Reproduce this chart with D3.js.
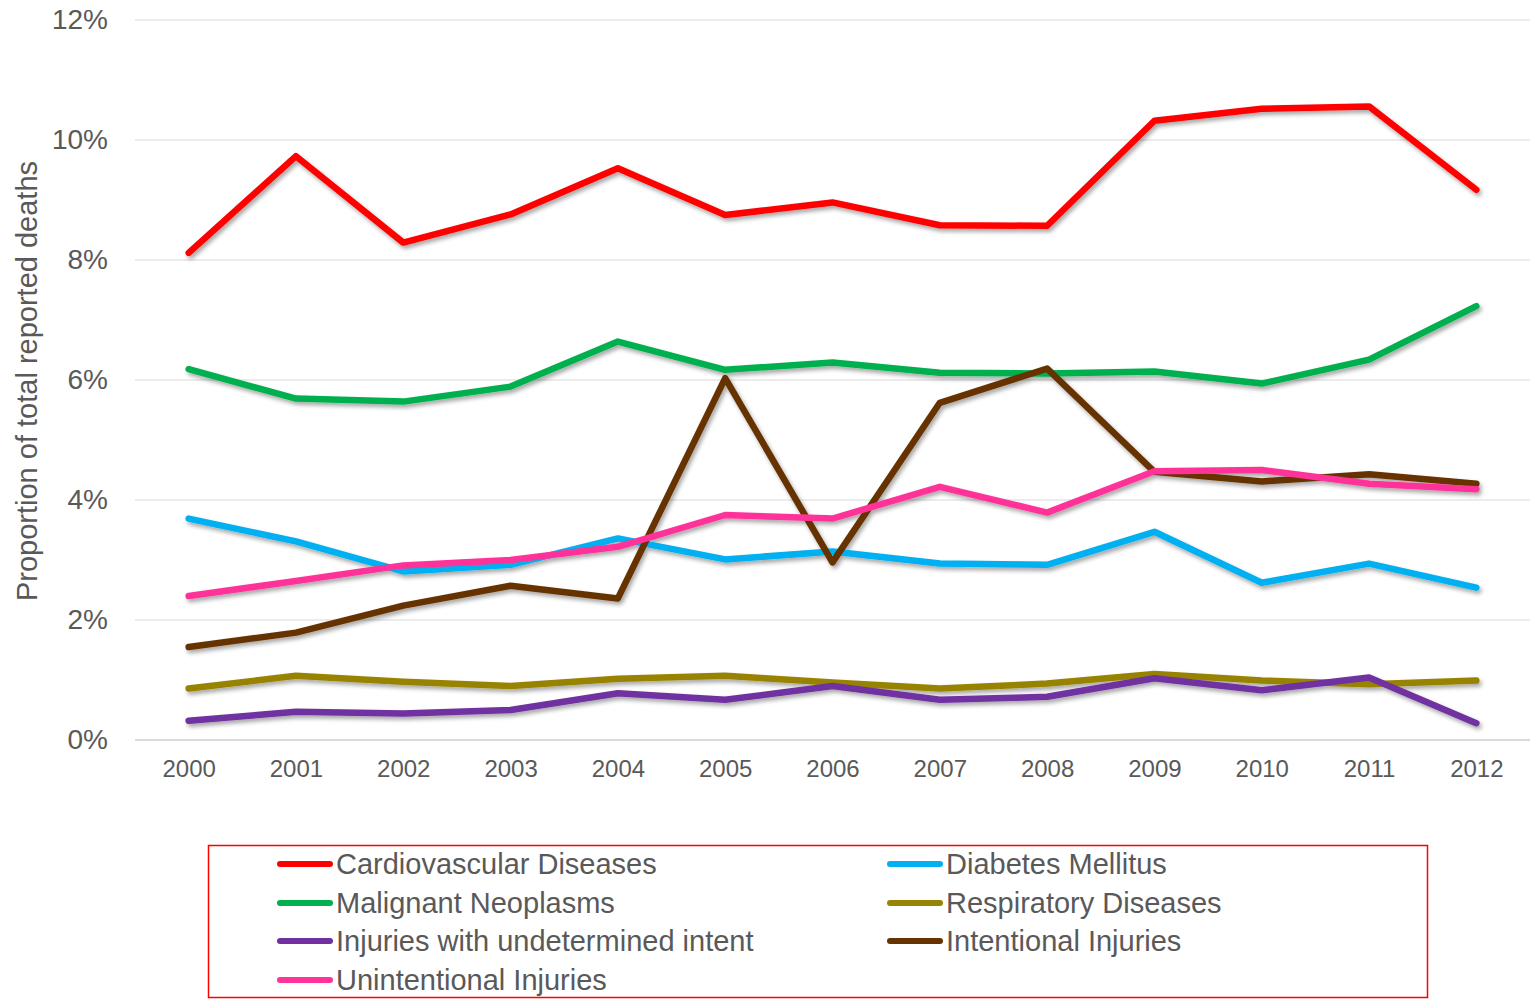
<!DOCTYPE html>
<html>
<head>
<meta charset="utf-8">
<script src="https://cdn.jsdelivr.net/npm/d3@7"></script>
<style>
  html, body { margin: 0; padding: 0; background: #fff; }
  svg { display: block; font-family: "Liberation Sans", Arial, sans-serif; }
</style>
</head>
<body>
<svg id="chart" width="1530" height="1001"></svg>
<script>
// Years on the category axis
const years = ["2000","2001","2002","2003","2004","2005","2006","2007","2008","2009","2010","2011","2012"];

// Share of all reported deaths, per cause (percent)
const cardiovascular = [8.12, 9.73, 8.29, 8.76, 9.53, 8.75, 8.96, 8.58, 8.57, 10.32, 10.52, 10.56, 9.17];
const diabetes       = [3.69, 3.31, 2.81, 2.92, 3.36, 3.01, 3.14, 2.94, 2.92, 3.47, 2.62, 2.94, 2.54];
const neoplasms      = [6.18, 5.69, 5.64, 5.89, 6.64, 6.17, 6.29, 6.12, 6.11, 6.14, 5.94, 6.34, 7.23];
const respiratory    = [0.86, 1.07, 0.97, 0.90, 1.02, 1.07, 0.96, 0.86, 0.94, 1.10, 0.99, 0.93, 0.99];
const undetermined   = [0.32, 0.47, 0.44, 0.50, 0.78, 0.67, 0.90, 0.67, 0.72, 1.03, 0.83, 1.04, 0.28];
const intentional    = [1.55, 1.79, 2.24, 2.57, 2.36, 6.03, 2.96, 5.62, 6.19, 4.47, 4.31, 4.43, 4.27];
const unintentional  = [2.40, 2.65, 2.91, 3.00, 3.22, 3.75, 3.69, 4.22, 3.79, 4.48, 4.50, 4.27, 4.18];

// Y-axis tick values (percent)
const yTicks = [0, 2, 4, 6, 8, 10, 12];

// Series in legend order (row by row, two columns)
const series = [
  { name: "Cardiovascular Diseases",           values: cardiovascular, color: "#FF0000" },
  { name: "Diabetes Mellitus",                 values: diabetes,       color: "#00B0F0" },
  { name: "Malignant Neoplasms",               values: neoplasms,      color: "#00B050" },
  { name: "Respiratory Diseases",              values: respiratory,    color: "#978304" },
  { name: "Injuries with undetermined intent", values: undetermined,   color: "#7030A0" },
  { name: "Intentional Injuries",              values: intentional,    color: "#663300" },
  { name: "Unintentional Injuries",            values: unintentional,  color: "#FF3399" }
];

const svg = d3.select("#chart");
const plotLeft = 135, plotRight = 1530, plotTop = 20, plotBottom = 740;
const textColor = "#595959";
const gridColor = "#D9D9D9";

const x = d3.scalePoint().domain(years).range([plotLeft, plotRight]).padding(0.5);
const y = d3.scaleLinear().domain([0, 12]).range([plotBottom, plotTop]);

// Soft shadow under the data lines
const defs = svg.append("defs");
const f = defs.append("filter").attr("id", "shadow")
  .attr("x", "-5%").attr("y", "-20%").attr("width", "110%").attr("height", "140%");
f.append("feDropShadow").attr("dx", 2).attr("dy", 3).attr("stdDeviation", 2)
  .attr("flood-color", "#000").attr("flood-opacity", 0.35);

// Horizontal gridlines
svg.append("g")
  .selectAll("line")
  .data(yTicks.filter(d => d > 0))
  .join("line")
  .attr("x1", plotLeft).attr("x2", plotRight)
  .attr("y1", d => y(d)).attr("y2", d => y(d))
  .attr("stroke", gridColor).attr("stroke-width", 1.2);

// Y axis labels
const yAxis = svg.append("g")
  .attr("transform", `translate(${plotLeft},0)`)
  .call(d3.axisLeft(y).tickValues(yTicks).tickFormat(d => d + "%").tickSize(0).tickPadding(27));
yAxis.select(".domain").remove();
yAxis.selectAll("text").attr("fill", textColor).style("font-size", "28px");

// X axis with its baseline
const xAxis = svg.append("g")
  .attr("transform", `translate(0,${plotBottom})`)
  .call(d3.axisBottom(x).tickSize(0).tickPadding(20));
xAxis.select(".domain").remove();
xAxis.selectAll("text").attr("fill", textColor).style("font-size", "24px");
svg.append("line")
  .attr("x1", plotLeft).attr("x2", plotRight)
  .attr("y1", y(0)).attr("y2", y(0))
  .attr("stroke", gridColor).attr("stroke-width", 2);

// Y axis title
svg.append("text")
  .attr("transform", `translate(37,${(160 + 602) / 2}) rotate(-90)`)
  .attr("text-anchor", "middle")
  .attr("fill", textColor)
  .style("font-size", "29px")
  .text("Proportion of total reported deaths");

// Data lines
const line = d3.line().x((d, i) => x(years[i])).y(d => y(d));
svg.append("g")
  .attr("filter", "url(#shadow)")
  .selectAll("path")
  .data(series)
  .join("path")
  .attr("d", d => line(d.values))
  .attr("fill", "none")
  .attr("stroke", d => d.color)
  .attr("stroke-width", 6.5)
  .attr("stroke-linecap", "round")
  .attr("stroke-linejoin", "round");

// Legend
const lg = svg.append("g");
lg.append("rect")
  .attr("x", 208.5).attr("y", 845.5).attr("width", 1219).attr("height", 152)
  .attr("fill", "none").attr("stroke", "#FF0000").attr("stroke-width", 1.5);
const colX = [278, 888];
const rowY = [864, 903, 941, 980];
const items = lg.selectAll("g.item")
  .data(series)
  .join("g")
  .attr("class", "item")
  .attr("transform", (d, i) => `translate(${colX[i % 2]},${rowY[Math.floor(i / 2)]})`);
items.append("line")
  .attr("x1", 2).attr("x2", 52).attr("y1", 0).attr("y2", 0)
  .attr("stroke", d => d.color).attr("stroke-width", 6).attr("stroke-linecap", "round");
items.append("text")
  .attr("x", 58).attr("y", 10)
  .attr("fill", textColor)
  .style("font-size", "29px")
  .text(d => d.name);
</script>
</body>
</html>
